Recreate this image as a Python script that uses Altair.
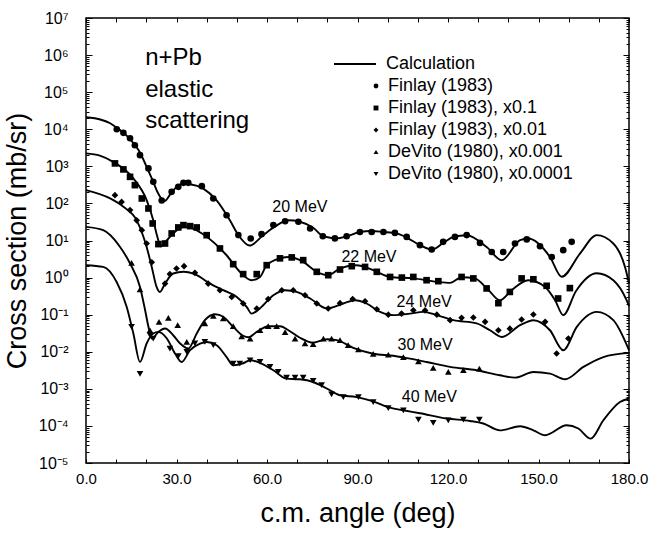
import altair as alt
import pandas as pd

# ---------------- Calculation curves (deg, mb/sr, already scaled) ----------------
ang20 = [0, 5, 8, 10.2, 13.8, 17.7, 20.1, 22.3, 23.6, 26.0, 28.4, 30.1, 32.2, 34.5, 38.9, 43.3, 47.7, 50.5, 54.2, 58.8,
         62.7, 67.0, 70.9, 75.3, 78.7, 83.1, 86.5, 90.8, 94.7, 98.6, 103.0, 106.3, 110.7, 114.7, 118.4, 121.8, 126.2, 132.8,
         137.8, 143.9, 146.6, 153.8, 157.7, 163.8, 169.3, 174.8, 178.7, 180]
val20 = [2.1e4, 1.8e4, 1.45e4, 1.1e4, 6.3e3, 2.5e3, 970, 380, 210, 115, 200, 280, 340, 330, 250, 120, 35, 14, 7.3, 14,
         24, 35, 32, 22, 13, 11.4, 13, 17, 18, 17, 15.5, 12, 7.5, 5.7, 8.6, 12.5, 13.9, 6.7,
         2.95, 10.2, 11.3, 3.6, 1.05, 4.5, 14, 8.3, 1.9, 0.7]

ang22 = [0, 4.6, 9.0, 15.7, 20.1, 22.3, 23.5, 24.8, 26.5, 28.9, 32.8, 38.8, 46.6, 51.0, 54.9, 57.7, 59.9, 64.3, 67.6, 72.0,
         76.5, 80.3, 84.2, 89.7, 95.2, 100.8, 108.5, 116.3, 120.7, 124.5, 128.9, 133.4, 137.2, 141.1, 146.6, 152.2, 155.5,
         158.2, 162.4, 169.3, 174.8, 179.2, 180]
val22 = [2230, 1950, 1320, 472, 123, 35, 14, 7.0, 9.6, 15.5, 24, 14.8, 4.0, 1.43, 0.85, 1.04, 2.16, 3.3, 3.6, 2.65,
         1.43, 1.16, 1.76, 2.16, 1.58, 1.04, 0.95, 0.77, 0.72, 1.02, 0.95, 0.46, 0.245, 0.46, 0.85, 0.56, 0.245,
         0.097, 0.43, 1.31, 0.85, 0.245, 0.17]

ang24 = [0, 8.0, 12.4, 16.8, 20.1, 21.8, 23.4, 24.5, 26.2, 28.9, 32.3, 36.7, 41.1, 45.5, 50.0, 53.3, 54.9, 57.7, 62.1, 66.0,
         69.8, 74.3, 79.8, 85.3, 89.2, 93.0, 97.5, 101.9, 107.4, 111.8, 116.3, 121.8, 129.5, 133.9, 137.8, 143.9, 148.3,
         153.8, 158.2, 162.7, 169.3, 174.8, 180]
val24 = [228, 136, 81, 35, 6.7, 1.94, 0.56, 0.41, 0.69, 1.29, 1.43, 1.16, 0.69, 0.457, 0.30, 0.16, 0.107, 0.149, 0.335, 0.457,
         0.41, 0.273, 0.147, 0.2, 0.245, 0.2, 0.119, 0.097, 0.107, 0.119, 0.097, 0.071, 0.058, 0.038, 0.025, 0.052, 0.071,
         0.038, 0.011, 0.047, 0.119, 0.071, 0.011]

ang30 = [0, 5.7, 11.3, 14.6, 17.9, 19.6, 20.7, 21.8, 24.0, 26.2, 28.9, 31.2, 33.9, 36.7, 39.4, 42.8, 45.5, 48.8, 52.1, 53.8,
         56.6, 60.4, 64.3, 67.6, 70.9, 75.3, 79.9, 83.1, 88.6, 95.2, 101.9, 107.4, 112.9, 120.7, 129.5, 137.2, 142.2,
         148.3, 153.8, 158.8, 164.9, 171.5, 180]
val30 = [23.3, 19, 6.7, 2.4, 0.56, 0.132, 0.047, 0.0227, 0.0343, 0.0423, 0.0279, 0.0167, 0.0122, 0.031, 0.071, 0.103, 0.088,
         0.047, 0.027, 0.0247, 0.0343, 0.0489, 0.0489, 0.0358, 0.0239, 0.0175, 0.0218, 0.0205, 0.0128, 0.00885, 0.0078,
         0.0065, 0.0053, 0.0039, 0.00317, 0.00232, 0.00201, 0.00285, 0.00258, 0.00181, 0.0039, 0.0072, 0.0093]

ang40 = [0, 5.7, 10.2, 13.5, 15.7, 17.9, 20.1, 22.3, 24.0, 26.8, 29.5, 31.7, 34.5, 37.8, 40.0, 43.3, 46.6, 48.8, 52.1, 54.4,
         58.2, 62.1, 66.5, 70.9, 75.3, 79.8, 84.2, 89.7, 95.2, 100.8, 105.2, 110.7, 119.6, 127.3, 131.7, 137.2, 143.9,
         148.3, 152.2, 159.3, 163.2, 167.3, 171.5, 177.0, 180]
val40 = [2.16, 1.94, 0.75, 0.162, 0.031, 0.0053, 0.0167, 0.031, 0.0343, 0.0227, 0.009, 0.0053, 0.011, 0.0165, 0.0184, 0.015,
         0.0072, 0.0043, 0.0049, 0.0059, 0.0048, 0.00317, 0.00189, 0.00181, 0.00153, 0.00102, 0.00067, 0.0006, 0.00046,
         0.00031, 0.000264, 0.000219, 0.000158, 0.000136, 0.000116, 7.6e-5, 9.8e-5, 7.6e-5, 5.6e-5, 1.04e-4, 8.5e-5,
         4.55e-5, 1.42e-4, 4.4e-4, 5.5e-4]

# ---------------- Measured data (scaled) ----------------
d20_ang = [10.2, 12.4, 14.6, 16.2, 17.9, 20.7, 22.3, 25.1, 28.4, 30.6, 32.3, 33.9, 38.4, 42.2, 46.6, 50.5, 54.6, 58.2, 62.1,
           66.0, 70.4, 74.3, 78.5, 82.5, 86.4, 90.8, 94.7, 98.6, 102.4, 106.3, 110.7, 114.6, 118.4, 122.3, 126.2, 130.6,
           134.5, 138.3, 142.2, 146.1, 150.5, 154.4, 158.2, 161.0]
d20_val = [1.0e4, 8.0e3, 5.7e3, 3.7e3, 2.0e3, 880, 382, 120, 205, 280, 359, 359, 292, 136, 48, 14, 11.3, 14.8, 26,
           33, 32, 21, 13, 11.4, 13, 17, 17, 17, 16, 12.5, 7.5, 5.7, 9.2, 12.5, 14, 8.6,
           4.9, 4.9, 8.3, 10.7, 7.0, 3.6, 5.5, 9.2]

d22_ang = [9.6, 12.4, 14.6, 16.2, 18.5, 20.7, 22.1, 24.0, 26.2, 28.4, 30.6, 32.3, 34.5, 36.7, 40.0, 44.4, 48.8, 52.1, 56.6,
           59.9, 64.3, 68.2, 72.0, 76.5, 80.3, 84.2, 88.1, 92.5, 96.4, 100.8, 104.7, 108.5, 112.9, 116.8, 124.5, 128.4,
           132.8, 136.7, 140.5, 144.4, 148.3, 152.7, 156.5, 160.4]
d22_val = [1200, 826, 521, 311, 136, 73, 28.8, 8.0, 8.3, 15.5, 22.5, 26, 24.4, 22.5, 13.9, 6.1, 2.3, 1.24, 1.24,
           2.16, 3.3, 3.5, 2.95, 1.43, 1.16, 1.65, 2.03, 1.94, 1.43, 1.04, 1.0, 1.04, 0.85, 0.80, 1.04, 0.95,
           0.51, 0.204, 0.41, 0.95, 0.9, 0.6, 0.273, 0.52]

d24_ang = [9.6, 11.8, 14.6, 16.8, 18.5, 20.1, 21.8, 26.2, 27.8, 30.0, 32.5, 36.1, 40.5, 44.4, 48.3, 52.1, 56.6, 60.4, 64.9,
           68.7, 72.6, 76.5, 80.3, 84.2, 88.4, 92.5, 96.4, 100.2, 104.6, 108.5, 112.4, 116.3, 120.7, 124.5, 128.4, 132.3,
           136.7, 140.5, 144.4, 148.3, 152.2, 156.0, 159.9]
d24_val = [167, 110, 66, 35, 19, 8.3, 2.6, 0.69, 1.24, 1.76, 2.03, 1.34, 0.69, 0.457, 0.30, 0.2, 0.147, 0.265, 0.457,
           0.457, 0.335, 0.2, 0.147, 0.204, 0.265, 0.23, 0.14, 0.1, 0.107, 0.132, 0.13, 0.1, 0.071, 0.082, 0.084, 0.064,
           0.038, 0.042, 0.074, 0.101, 0.064, 0.009, 0.0227]

d30_ang = [15.1, 17.9, 21.2, 24.2, 27.3, 30.4, 33.4, 39.4, 42.2, 45.5, 48.8, 51.6, 54.4, 57.7, 60.4, 63.2, 66.0, 69.3,
           72.6, 75.3, 78.7, 81.4, 84.2, 86.9, 90.3, 95.2, 100.2, 105.2, 110.2, 115.1, 120.1, 125.1, 130.4]
d30_val = [2.5, 0.48, 0.038, 0.064, 0.082, 0.052, 0.0184, 0.058, 0.093, 0.079, 0.049, 0.026, 0.0227, 0.038, 0.049, 0.049,
           0.034, 0.0227, 0.0167, 0.016, 0.0227, 0.0227, 0.0205, 0.015, 0.0115, 0.0088, 0.0083, 0.0072, 0.0055, 0.0037,
           0.00285, 0.0032, 0.0035]

d40_ang = [15.1, 17.9, 21.2, 22.3, 27.8, 30.6, 33.4, 36.1, 39.4, 42.2, 48.8, 51.0, 54.4, 57.7, 61.0, 63.7, 66.5, 69.3,
           72.0, 75.3, 78.1, 81.4, 85.3, 90.3, 95.2, 100.2, 105.2, 110.2, 115.1, 120.1, 125.1, 130.4]
d40_val = [0.047, 0.00255, 0.028, 0.0227, 0.0122, 0.0076, 0.0099, 0.0167, 0.0184, 0.015, 0.0048, 0.0048, 0.0059, 0.0053,
           0.0039, 0.00285, 0.002, 0.002, 0.002, 0.00163, 0.00125, 0.00071, 0.0006, 0.0006, 0.00044, 0.0003, 0.000264,
           0.000148, 0.00012, 0.000142, 0.000148, 0.000148]

series_names = ["Finlay (1983)", "Finlay (1983), x0.1", "Finlay (1983), x0.01",
                "DeVito (1980), x0.001", "DeVito (1980), x0.0001"]
series_shapes = ["circle", "square", "diamond", "triangle-up", "triangle-down"]

energy_labels = ["20 MeV", "22 MeV", "24 MeV", "30 MeV", "40 MeV"]
energy_label_ang = [70.9, 93.8, 112.1, 112.4, 113.8]
energy_label_val = [59, 2.65, 0.162, 0.011, 4.43e-4]

title_lines = ["n+Pb", "elastic", "scattering"]
title_ang = [19.6, 19.6, 19.6]
title_val = [5.4e5, 7.6e4, 1.1e4]

# ---------------- Tables ----------------
curve_rows = []
for name, a, v in [("20", ang20, val20), ("22", ang22, val22), ("24", ang24, val24),
                   ("30", ang30, val30), ("40", ang40, val40)]:
    for i, (x, y) in enumerate(zip(a, v)):
        curve_rows.append({"energy": name, "order": i, "angle": x, "xs": y, "kind": "Calculation"})
curves = pd.DataFrame(curve_rows)

pt_rows = []
for s, a, v in zip(series_names, [d20_ang, d22_ang, d24_ang, d30_ang, d40_ang],
                   [d20_val, d22_val, d24_val, d30_val, d40_val]):
    for x, y in zip(a, v):
        pt_rows.append({"series": s, "angle": x, "xs": y})
points = pd.DataFrame(pt_rows)

elab = pd.DataFrame({"label": energy_labels, "angle": energy_label_ang, "xs": energy_label_val})
tlab = pd.DataFrame({"label": title_lines, "angle": title_ang, "xs": title_val})

# ---------------- Scales / axes ----------------
FONT = "Liberation Sans"
xscale = alt.Scale(domain=[0, 180], nice=False, zero=False)
yscale = alt.Scale(type="log", domain=[1e-5, 1e7], nice=False)

decades = [10.0 ** e for e in range(-5, 8)]
minor = [m * 10.0 ** e for e in range(-5, 7) for m in range(2, 10)]
xticks = list(range(0, 181, 10))

sup = str.maketrans("-0123456789", "⁻⁰¹²³⁴⁵⁶⁷⁸⁹")
parts = []
for e in range(7, -5, -1):
    parts.append(f"datum.value > {3 * 10.0 ** (e - 1):.3g} ? '10{str(e).translate(sup)}'")
ylabel_expr = " : ".join(parts) + " : '10" + str(-5).translate(sup) + "'"

common_axis = dict(domain=False, grid=False, tickColor="black", tickWidth=1,
                   labelColor="black", labelFont=FONT, titleFont=FONT, titleColor="black",
                   titleFontWeight="normal", labelOverlap=False)

x_bottom = alt.Axis(orient="bottom", values=xticks, tickSize=4, offset=-4,
                    labelExpr="datum.value % 30 == 0 ? format(datum.value, '.1f') : ''",
                    labelFontSize=15, labelPadding=8, labelFlush=False,
                    title="c.m. angle (deg)", titleFontSize=27, titlePadding=14, **common_axis)
y_left = alt.Axis(orient="left", values=decades, tickSize=6, offset=-6, labelExpr=ylabel_expr,
                  labelFontSize=16, labelPadding=18,
                  title="Cross section (mb/sr)", titleFontSize=27, titlePadding=7, **common_axis)
x_top = alt.Axis(orient="top", values=xticks, tickSize=4, offset=-4, labels=False, title=None, **common_axis)
y_right = alt.Axis(orient="right", values=decades, tickSize=6, offset=-6, labels=False, title=None, **common_axis)
y_left_minor = alt.Axis(orient="left", values=minor, tickSize=3, offset=-3, labels=False, title=None, **common_axis)
y_right_minor = alt.Axis(orient="right", values=minor, tickSize=3, offset=-3, labels=False, title=None, **common_axis)

lines = alt.Chart(curves).mark_line(interpolate="monotone", strokeWidth=1.9).encode(
    x=alt.X("angle:Q", scale=xscale, axis=x_bottom),
    y=alt.Y("xs:Q", scale=yscale, axis=y_left),
    detail="energy:N",
    order="order:Q",
    color=alt.Color("kind:N", scale=alt.Scale(domain=["Calculation"], range=["black"]),
                    legend=alt.Legend(orient="none", legendX=247, legendY=24, title=None,
                                      symbolType="stroke", symbolSize=1764, symbolStrokeWidth=2,
                                      symbolStrokeColor="black",
                                      labelFontSize=18, labelFont=FONT, labelColor="black",
                                      labelOffset=9, labelLimit=0, padding=0)),
)

pts = alt.Chart(points).mark_point(filled=True, color="black", size=44, opacity=1).encode(
    x=alt.X("angle:Q", scale=xscale, axis=x_top),
    y=alt.Y("xs:Q", scale=yscale, axis=y_right),
    shape=alt.Shape("series:N", scale=alt.Scale(domain=series_names, range=series_shapes),
                    legend=alt.Legend(orient="none", legendX=281, legendY=59, title=None,
                                      symbolSize=24, symbolFillColor="black", symbolStrokeColor="black",
                                      labelFontSize=18, labelFont=FONT, labelColor="black",
                                      labelOffset=3, labelLimit=0, rowPadding=4, padding=0)),
)

elabels = alt.Chart(elab).mark_text(align="center", baseline="alphabetic", fontSize=16, font=FONT,
                                    color="black").encode(
    x=alt.X("angle:Q", scale=xscale, axis=None),
    y=alt.Y("xs:Q", scale=yscale, axis=y_left_minor),
    text="label:N",
)

tlabels = alt.Chart(tlab).mark_text(align="left", baseline="alphabetic", fontSize=24, font=FONT,
                                    color="black").encode(
    x=alt.X("angle:Q", scale=xscale, axis=None),
    y=alt.Y("xs:Q", scale=yscale, axis=y_right_minor),
    text="label:N",
)

chart = alt.layer(lines, pts, elabels, tlabels).resolve_axis(
    x="independent", y="independent"
).properties(
    width=543, height=445,
    padding={"left": 86, "top": 18, "right": 20, "bottom": 71},
    autosize=alt.AutoSizeParams(type="none"),
    background="white",
).configure_view(stroke="black", strokeWidth=1.5)

chart.save("out.html", embed_options={"renderer": "svg", "actions": False})
